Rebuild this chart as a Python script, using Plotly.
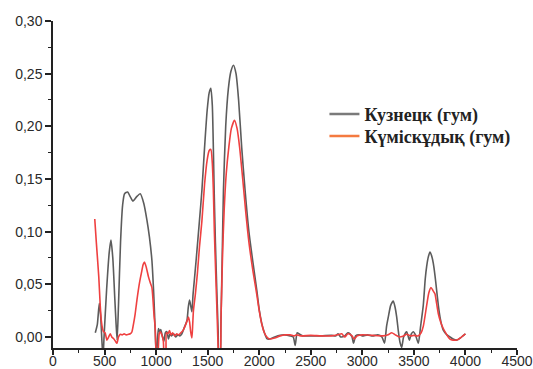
import plotly.graph_objects as go

# Кузнецк (гум) — grey curve
kuz_x = [410, 430, 449, 462, 475, 485, 495, 520, 545, 562, 580, 600, 612, 622, 635, 655, 675, 694,
         723, 750, 775, 810, 846, 880, 911, 935, 959, 975, 985, 995, 1003, 1015, 1023, 1035, 1045,
         1060, 1075, 1090, 1105, 1120, 1135, 1150, 1170, 1190, 1210, 1230, 1250, 1270, 1290, 1300,
         1312, 1324, 1335, 1347, 1358, 1369, 1390, 1420, 1444, 1470, 1495, 1515, 1531, 1545, 1555,
         1563, 1575, 1590, 1602, 1610, 1620, 1628, 1640, 1653, 1675, 1700, 1725, 1750, 1775, 1800,
         1830, 1863, 1900, 1940, 1977, 2000, 2025, 2050, 2074, 2100, 2150, 2203, 2250, 2300, 2330,
         2349, 2368, 2385, 2420, 2500, 2600, 2700, 2740, 2765, 2790, 2830, 2860, 2881, 2900, 2915,
         2935, 2970, 3000, 3050, 3100, 3150, 3190, 3215, 3235, 3252, 3275, 3300, 3318, 3333, 3350,
         3365, 3382, 3400, 3430, 3456, 3475, 3494, 3515, 3543, 3565, 3591, 3610, 3624, 3640, 3656,
         3672, 3688, 3705, 3721, 3737, 3753, 3770, 3785, 3820, 3850, 3880, 3915, 3950, 3975, 4000]
kuz_y = [0.004, 0.012, 0.032, 0.020, -0.005, -0.020, 0.000, 0.045, 0.080, 0.092, 0.075, 0.035,
         0.012, -0.003, 0.030, 0.090, 0.125, 0.136, 0.1376, 0.133, 0.129, 0.133, 0.136, 0.127, 0.111,
         0.095, 0.073, 0.045, 0.022, -0.005, -0.020, 0.000, 0.008, 0.005, 0.007, 0.001, -0.004, 0.004,
         0.005, -0.002, 0.003, 0.001, 0.003, 0.000, 0.002, 0.001, 0.003, 0.008, 0.013, 0.016, 0.028,
         0.035, 0.030, 0.024, 0.040, 0.052, 0.075, 0.110, 0.139, 0.180, 0.215, 0.232, 0.236, 0.220,
         0.180, 0.139, 0.090, 0.040, 0.005, -0.020, -0.020, 0.010, 0.070, 0.139, 0.200, 0.235, 0.252,
         0.258, 0.250, 0.225, 0.180, 0.139, 0.100, 0.070, 0.044, 0.026, 0.0127, 0.004, -0.0015,
         -0.002, 0.000, 0.0016, 0.002, 0.001, 0.000, -0.008, 0.004, 0.003, 0.001, 0.001, 0.001,
         0.0015, 0.001, 0.003, 0.000, 0.001, 0.004, 0.003, 0.000, -0.006, 0.001, 0.002, 0.001,
         0.002, 0.001, 0.002, 0.000, -0.006, 0.010, 0.019, 0.030, 0.034, 0.028, 0.019, 0.005, -0.005,
         -0.010, 0.000, 0.005, -0.003, 0.003, 0.005, 0.002, -0.006, 0.010, 0.030, 0.055, 0.067,
         0.076, 0.0807, 0.077, 0.070, 0.058, 0.044, 0.030, 0.019, 0.011, 0.0065, 0.002, 0.000,
         -0.002, -0.003, -0.001, 0.001, 0.003]

# Күміскұдық (гум) — red curve
kum_x = [405, 420, 444, 458, 468, 480, 490, 505, 523, 540, 555, 570, 587, 605, 620, 635, 652, 670,
         690, 710, 733, 750, 765, 780, 797, 814, 840, 862, 875, 888, 905, 926, 945, 959, 970, 980,
         991, 1001, 1015, 1030, 1040, 1055, 1070, 1080, 1092, 1100, 1115, 1130, 1145, 1160, 1180,
         1200, 1220, 1240, 1260, 1280, 1300, 1314, 1325, 1335, 1347, 1355, 1362, 1380, 1400, 1420,
         1444, 1470, 1495, 1515, 1531, 1545, 1555, 1565, 1578, 1592, 1602, 1612, 1620, 1630, 1645,
         1660, 1680, 1705, 1730, 1760, 1785, 1810, 1840, 1870, 1900, 1940, 1977, 2000, 2025, 2050,
         2074, 2100, 2150, 2203, 2250, 2300, 2340, 2360, 2400, 2500, 2600, 2700, 2760, 2800, 2830,
         2860, 2900, 2920, 2950, 3000, 3100, 3200, 3250, 3285, 3320, 3360, 3400, 3430, 3470, 3500,
         3540, 3570, 3591, 3624, 3645, 3666, 3685, 3704, 3720, 3737, 3760, 3785, 3820, 3850, 3880,
         3915, 3950, 3975, 4000]
kum_y = [0.112, 0.090, 0.057, 0.030, 0.016, 0.008, 0.005, 0.004, -0.003, 0.000, 0.003, 0.000,
         -0.0015, -0.004, -0.006, 0.000, 0.0026, 0.002, 0.003, 0.002, 0.0026, 0.003, 0.0047, 0.012,
         0.022, 0.035, 0.052, 0.063, 0.069, 0.071, 0.066, 0.057, 0.051, 0.047, 0.035, 0.020, 0.0095,
         -0.015, -0.020, 0.003, 0.005, 0.002, -0.004, -0.020, -0.020, 0.004, 0.003, 0.006, 0.002,
         0.004, 0.001, 0.003, 0.002, 0.004, 0.006, 0.010, 0.015, 0.019, 0.014, 0.005, -0.001, 0.012,
         0.025, 0.040, 0.060, 0.085, 0.110, 0.145, 0.168, 0.177, 0.178, 0.165, 0.140, 0.100, 0.060,
         0.020, -0.010, -0.020, -0.020, 0.020, 0.080, 0.120, 0.155, 0.180, 0.198, 0.2057, 0.198,
         0.180, 0.150, 0.118, 0.090, 0.062, 0.040, 0.025, 0.012, 0.004, 0.000, -0.002, -0.001,
         0.001, 0.002, 0.002, 0.001, 0.002, 0.001, 0.0015, 0.001, 0.001, 0.002, 0.003, 0.000, 0.003,
         0.001, -0.002, 0.001, 0.002, 0.0015, 0.001, 0.002, 0.004, 0.002, 0.000, 0.001, 0.0025,
         0.001, 0.0015, 0.001, 0.004, 0.010, 0.030, 0.042, 0.047, 0.044, 0.041, 0.032, 0.022, 0.014,
         0.008, 0.002, -0.002, -0.003, -0.003, -0.001, 0.001, 0.003]

series_names = ["Кузнецк (гум)", "Күміскұдық (гум)"]
line_colors = ["#5c5c5c", "#ef4040"]
legend_colors = ["#7a7a7a", "#f47a40"]
legend_ids = ["legend", "legend2"]

y_ticks = [0.00, 0.05, 0.10, 0.15, 0.20, 0.25, 0.30]
x_ticks = [0, 500, 1000, 1500, 2000, 2500, 3000, 3500, 4000, 4500]

fig = go.Figure()
for xs, ys, col in [(kuz_x, kuz_y, line_colors[0]), (kum_x, kum_y, line_colors[1])]:
    fig.add_trace(go.Scatter(x=xs, y=ys, mode="lines", showlegend=False,
                             line=dict(color=col, width=1.6, shape="spline", smoothing=0.6)))
for name, col, lg in zip(series_names, legend_colors, legend_ids):
    fig.add_trace(go.Scatter(x=[None], y=[None], mode="lines", name=name, legend=lg,
                             line=dict(color=col, width=2.5)))

legend_font = dict(family="Liberation Serif, Times New Roman", size=18, color="#222", weight="bold")
axis_font = dict(family="Liberation Sans, Arial", size=14, color="#2a2a2a")
fig.update_layout(
    width=533, height=369,
    margin=dict(l=53, r=16, t=21, b=21),
    paper_bgcolor="white", plot_bgcolor="white",
    separators=", ",
    showlegend=True,
    legend=dict(x=0.585, y=0.771, xanchor="left", yanchor="top",
                bgcolor="rgba(0,0,0,0)", font=legend_font),
    legend2=dict(x=0.585, y=0.704, xanchor="left", yanchor="top",
                 bgcolor="rgba(0,0,0,0)", font=legend_font),
    xaxis=dict(range=[0, 4500], tickvals=x_ticks, showgrid=False, zeroline=False,
               showline=True, linecolor="#222", linewidth=1.5,
               ticks="outside", ticklen=5, tickwidth=1.5, tickcolor="#222",
               minor=dict(ticks="outside", ticklen=3, tickwidth=1.2, tickcolor="#222", dtick=250, tick0=0),
               tickfont=axis_font, automargin=False, ticklabelstandoff=-6),
    yaxis=dict(range=[-0.0105, 0.30], tickvals=y_ticks, tickformat=".2f",
               showgrid=False, zeroline=False,
               showline=True, linecolor="#222", linewidth=1.5,
               ticks="outside", ticklen=6, tickwidth=1.5, tickcolor="#222",
               minor=dict(ticks="outside", ticklen=3, tickwidth=1.2, tickcolor="#222", dtick=0.025, tick0=0),
               tickfont=axis_font, automargin=False),
)

fig.write_html("out.html")
